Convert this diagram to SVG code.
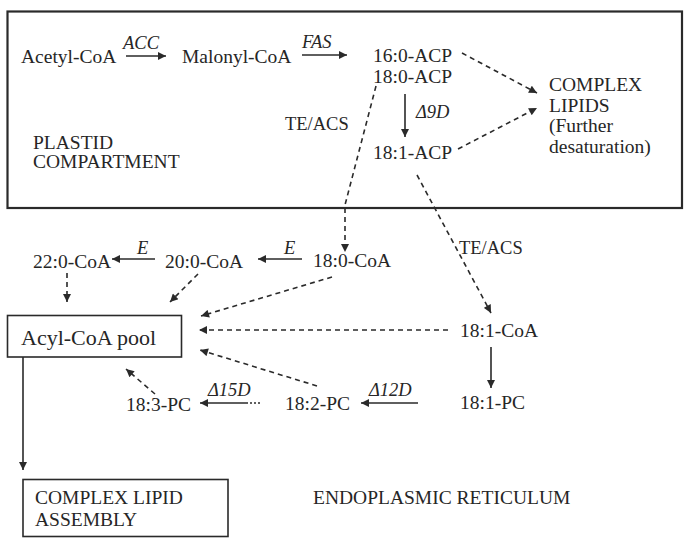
<svg xmlns="http://www.w3.org/2000/svg" width="689" height="542" viewBox="0 0 689 542">
<style>
  text { font-family: "Liberation Serif", "Times New Roman", serif; fill: #262626; }
  .lbl { font-size: 19.5px; }
  .enz { font-size: 18.5px; font-style: italic; }
  .reg { font-size: 18.5px; }
  .pool { font-size: 22px; }
  .box { fill: none; stroke: #2a2a2a; }
  .solid { fill: none; stroke: #2a2a2a; stroke-width: 1.6; }
  .dash { fill: none; stroke: #2a2a2a; stroke-width: 1.6; stroke-dasharray: 5 4; }
  .dot { fill: none; stroke: #2a2a2a; stroke-width: 1.6; stroke-dasharray: 2 2; }
</style>
<defs>
  <marker id="ah" viewBox="0 0 10 10" refX="10" refY="5" markerWidth="10" markerHeight="8" orient="auto" markerUnits="userSpaceOnUse">
    <path d="M0,0 L10,5 L0,10 z" fill="#2a2a2a"/>
  </marker>
</defs>
<rect width="689" height="542" fill="#ffffff"/>

<g id="plastid">
  <rect class="box" x="7.5" y="11.5" width="674.5" height="196.5" stroke-width="2.2"/>
  <text class="lbl" x="33" y="149">PLASTID</text>
  <text class="lbl" x="33" y="168">COMPARTMENT</text>
</g>

<g id="acetyl-coa"><text class="lbl" x="21" y="63">Acetyl-CoA</text></g>
<g id="malonyl-coa"><text class="lbl" x="182" y="63">Malonyl-CoA</text></g>
<g id="acp-16-18">
  <text class="lbl" x="373" y="62">16:0-ACP</text>
  <text class="lbl" x="373" y="83">18:0-ACP</text>
</g>
<g id="acp-18-1"><text class="lbl" x="373" y="159">18:1-ACP</text></g>
<g id="complex-lipids">
  <text class="lbl" x="549" y="91">COMPLEX</text>
  <text class="lbl" x="549" y="112">LIPIDS</text>
  <text class="lbl" x="549" y="132">(Further</text>
  <text class="lbl" x="549" y="153">desaturation)</text>
</g>

<g id="coa-22"><text class="lbl" x="33" y="268">22:0-CoA</text></g>
<g id="coa-20"><text class="lbl" x="165" y="268">20:0-CoA</text></g>
<g id="coa-18-0"><text class="lbl" x="313" y="267">18:0-CoA</text></g>
<g id="coa-18-1"><text class="lbl" x="460" y="337">18:1-CoA</text></g>
<g id="acyl-coa-pool">
  <rect class="box" x="7.5" y="315.5" width="174" height="41.5" stroke-width="1.6"/>
  <text class="pool" x="21" y="345">Acyl-CoA pool</text>
</g>
<g id="pc-18-1"><text class="lbl" x="460" y="409">18:1-PC</text></g>
<g id="pc-18-2"><text class="lbl" x="285" y="410">18:2-PC</text></g>
<g id="pc-18-3"><text class="lbl" x="126" y="411">18:3-PC</text></g>
<g id="complex-lipid-assembly">
  <rect class="box" x="23" y="479.5" width="205" height="57" stroke-width="1.6"/>
  <text class="lbl" x="35" y="504">COMPLEX LIPID</text>
  <text class="lbl" x="35" y="526">ASSEMBLY</text>
</g>
<g id="er"><text class="lbl" x="313" y="504">ENDOPLASMIC RETICULUM</text></g>

<g id="connectors">
  <!-- plastid -->
  <line class="solid" x1="126" y1="56" x2="166" y2="56" marker-end="url(#ah)"/>
  <text class="enz" x="123" y="49">ACC</text>
  <line class="solid" x1="302" y1="55" x2="347" y2="55" marker-end="url(#ah)"/>
  <text class="enz" x="302" y="48">FAS</text>
  <line class="solid" x1="405" y1="94" x2="405" y2="137" marker-end="url(#ah)"/>
  <text class="enz" x="416" y="118">Δ9D</text>
  <line class="dash" x1="462" y1="53" x2="537" y2="93" marker-end="url(#ah)"/>
  <line class="dash" x1="458" y1="149" x2="537" y2="108" marker-end="url(#ah)"/>
  <text class="reg" x="285" y="130">TE/ACS</text>
  <polyline class="dash" points="376,86 345,205 345,252" marker-end="url(#ah)"/>
  <line class="dash" x1="417" y1="175" x2="491" y2="313" marker-end="url(#ah)"/>
  <text class="reg" x="459" y="254">TE/ACS</text>
  <!-- elongation -->
  <line class="solid" x1="302" y1="259" x2="258" y2="259" marker-end="url(#ah)"/>
  <text class="enz" x="284" y="254">E</text>
  <line class="solid" x1="155" y1="259" x2="112" y2="259" marker-end="url(#ah)"/>
  <text class="enz" x="137" y="254">E</text>
  <!-- to pool -->
  <line class="dash" x1="67" y1="273" x2="67" y2="302" marker-end="url(#ah)"/>
  <line class="dash" x1="198" y1="274" x2="170" y2="302" marker-end="url(#ah)"/>
  <line class="dash" x1="332" y1="277" x2="201" y2="316" marker-end="url(#ah)"/>
  <line class="dash" x1="448" y1="330" x2="199" y2="330" marker-end="url(#ah)"/>
  <line class="dash" x1="317" y1="386" x2="200" y2="350" marker-end="url(#ah)"/>
  <line class="dash" x1="155" y1="394" x2="126" y2="369" marker-end="url(#ah)"/>
  <!-- ER desaturation -->
  <line class="solid" x1="491" y1="347" x2="491" y2="388" marker-end="url(#ah)"/>
  <line class="solid" x1="418" y1="403" x2="361" y2="403" marker-end="url(#ah)"/>
  <text class="enz" x="369" y="396">Δ12D</text>
  <line class="dot" x1="260" y1="403" x2="246" y2="403"/>
  <line class="solid" x1="246" y1="403" x2="200" y2="403" marker-end="url(#ah)"/>
  <text class="enz" x="208" y="396">Δ15D</text>
  <!-- to assembly -->
  <line class="solid" x1="23" y1="357" x2="23" y2="470" marker-end="url(#ah)"/>
</g>
</svg>
